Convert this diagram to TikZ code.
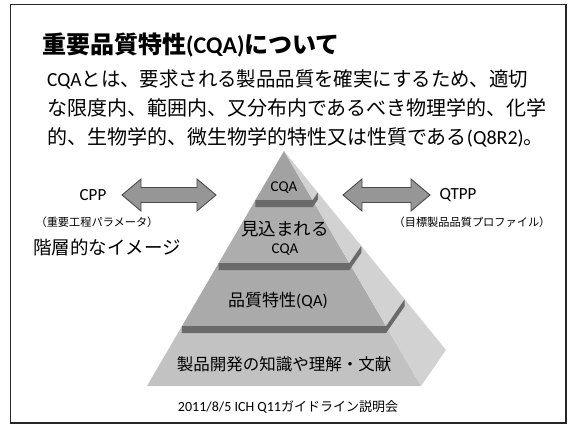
\documentclass[tikz,border=0pt]{standalone}
\usepackage{fontspec}
\setmainfont{Noto Sans CJK JP}
\newfontfamily\lat{Carlito}
\usetikzlibrary{calc}
\definecolor{frontA}{HTML}{A2A2A2}
\definecolor{frontB}{HTML}{ADADAD}
\definecolor{frontC}{HTML}{AAAAAA}
\definecolor{frontD}{HTML}{C2C2C2}
\definecolor{sidecol}{HTML}{D2D2D2}
\definecolor{bandcol}{HTML}{6A6A6A}
\definecolor{arrowfill}{HTML}{969696}
\definecolor{arrowline}{HTML}{4A4A4A}
\newcommand{\pyrtier}[3]{%
  \fill[#3] ($(A)!#1!(L)$) -- ($(A)!#1!(R)$) -- ($(A)!#2!(R)$) -- ($(A)!#2!(L)$) -- cycle;
  \fill[sidecol] ($(A)!#1!(R)$) -- ($(A)!#1!(B)$) -- ($(A)!#2!(B)$) -- ($(A)!#2!(R)$) -- cycle;}
\newcommand{\pyrband}[1]{%
  \fill[bandcol] ($(A)!#1!(L)$) -- ($(A)!#1!(R)$) -- ($(A)!#1!(B)$) -- ($($(A)!#1!(B)$)+(0,7)$) -- ($($(A)!#1!(R)$)+(0,7)$) -- ($($(A)!#1!(L)$)+(0,7)$) -- cycle;}
\newcommand{\dblarrow}[3]{%
  \draw[blockarrow] (#1,#3) -- ++(19,-16) -- ++(0,8.5) -- (#2-19,#3-7.5) -- ++(0,-8.5) -- (#2,#3) -- ++(-19,16) -- ++(0,-8.5) -- (#1+19,#3+7.5) -- ++(0,8.5) -- cycle;}
\begin{document}
\begin{tikzpicture}[x=1pt,y=-1pt,
  blockarrow/.style={fill=arrowfill,draw=arrowline,line width=0.9pt,line join=miter},
  txt/.style={inner sep=0pt,text=black},
  frame/.style={draw=black!85,line width=1.6pt}]
\useasboundingbox (0,0) rectangle (568,425);
\fill[white] (0,0) rectangle (568,425);
\draw[frame] (10.5,4.5) rectangle (566,423);

% title and body
\node[txt,anchor=west,font=\bfseries\fontsize{24}{28}\selectfont] (title) at (42,45) {重要品質特性{\lat (CQA)}について};
\node[txt,anchor=west,font=\fontsize{20}{24}\selectfont] (l1) at (47,79) {\scalebox{0.97}[1]{{\lat CQA}とは、要求される製品品質を確実にするため、適切}};
\node[txt,anchor=west,font=\fontsize{20}{24}\selectfont] (l2) at (47,108) {な限度内、範囲内、又分布内であるべき物理学的、化学};
\node[txt,anchor=west,font=\fontsize{20}{24}\selectfont] (l3) at (47,137) {的、生物学的、微生物学的特性又は性質である{\lat (Q8R2)}。};

% pyramid
\coordinate (A) at (284,151);
\coordinate (L) at (147,386);
\coordinate (R) at (421,386);
\coordinate (B) at (446,350);
\pyrtier{0.745}{1}{frontD}
\pyrtier{0.477}{0.745}{frontC}
\pyrband{0.745}
\pyrtier{0.209}{0.477}{frontB}
\pyrband{0.477}
\pyrtier{0}{0.209}{frontA}
\pyrband{0.209}

\node[txt,font=\lat\fontsize{15}{17}\selectfont] (cqa) at (284,188) {CQA};
\node[txt,font=\fontsize{17.5}{20}\selectfont] (mikomi) at (285,229) {見込まれる};
\node[txt,font=\lat\fontsize{15}{17}\selectfont] (cqa2) at (285,250) {CQA};
\node[txt,font=\fontsize{17}{20}\selectfont] (qa) at (278,301) {品質特性{\lat (QA)}};
\node[txt,font=\fontsize{16.5}{20}\selectfont] (base) at (284,364) {製品開発の知識や理解・文献};

% arrows and side labels
\dblarrow{122}{216}{195}
\dblarrow{343}{430}{195}
\node[txt,font=\lat\fontsize{17}{20}\selectfont] (cpp) at (93,195) {CPP};
\node[txt,font=\lat\fontsize{17}{20}\selectfont] (qtpp) at (458,195) {QTPP};
\node[txt,font=\fontsize{11.2}{13}\selectfont] (cppj) at (97,222) {（重要工程パラメータ）};
\node[txt,font=\fontsize{11.2}{13}\selectfont] (qtppj) at (472,222) {（目標製品品質プロファイル）};
\node[txt,anchor=west,font=\fontsize{18.5}{22}\selectfont] (image) at (33,247) {階層的なイメージ};

% footer
\node[txt,font=\fontsize{13}{15}\selectfont] (footer) at (288,407) {{\lat\fontsize{14}{15}\selectfont 2011/8/5 ICH Q11}ガイドライン説明会};
\end{tikzpicture}
\end{document}
